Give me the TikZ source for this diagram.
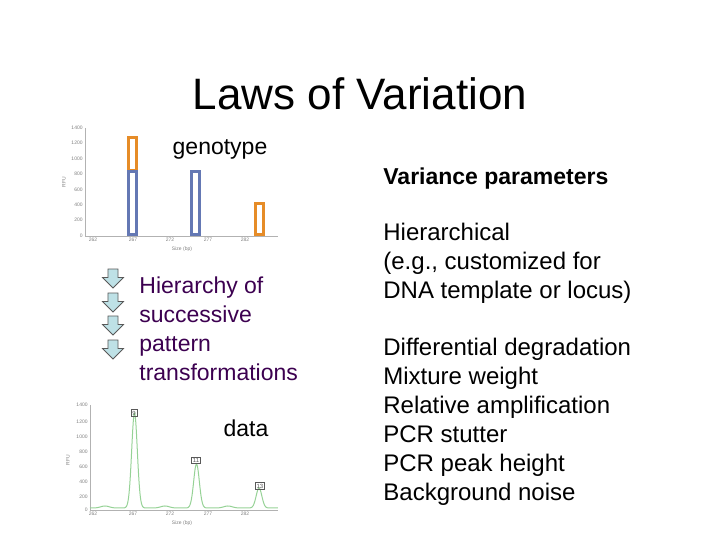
\documentclass[tikz,border=0pt]{standalone}
\usepackage{fontspec}
\setmainfont{Liberation Sans}
\usetikzlibrary{shapes.arrows}
\definecolor{orng}{RGB}{230,140,40}
\definecolor{blu}{RGB}{100,120,180}
\definecolor{grn}{RGB}{150,210,150}
\definecolor{purp}{RGB}{60,0,80}
\definecolor{arrf}{RGB}{190,225,230}
\begin{document}
\begin{tikzpicture}[x=0.5pt,y=-0.5pt,
  body/.style={anchor=north west,font=\fontsize{12}{14.5}\selectfont,align=left,inner sep=0pt},
  tick/.style={font=\fontsize{2.5}{3}\selectfont,anchor=east,inner sep=1pt,gray},
  bar/.style={line width=1.5pt},
  darr/.style={single arrow,shape border rotate=270,draw=gray!70!black,fill=arrf,minimum height=9.5pt,minimum width=10.5pt,single arrow head extend=1.5pt,inner sep=1.2pt}]
\useasboundingbox (0,0) rectangle (720,540);
\node (title) at (360,94) {\fontsize{22}{26}\selectfont Laws of Variation};
% top plot
\draw[gray!60,line width=0.3pt] (85,128) -- (85,236) -- (278,236);
\foreach \v/\y in {1400/128,1200/143,1000/159,800/174,600/190,400/205,200/220,0/236}{\node[tick] at (85,\y) {\v};}
\foreach \v/\x in {262/93,267/133,272/170,277/208,282/245}{\node[tick,anchor=north] at (\x,236) {\v};}
\node[tick,rotate=90,anchor=south] at (68,182) {RFU};
\node[tick,anchor=north] at (182,244) {Size (bp)};
\draw[bar,orng] (129,138) rectangle (137,171);
\draw[bar,blu] (129,172) rectangle (137,235);
\draw[bar,blu] (192,172) rectangle (200,235);
\draw[bar,orng] (256,204) rectangle (264,235);
\node (geno) at (220,149) {\fontsize{11.5}{14}\selectfont genotype};
% arrows
\foreach \i/\y in {a/276,b/300,c/323,d/347}{\node[darr] (arr\i) at (113,\y) {};}
\node[body,text=purp,font=\fontsize{11.5}{14.5}\selectfont] (hier) at (139,276) {Hierarchy of\\successive\\pattern\\transformations};
% bottom plot
\draw[gray!60,line width=0.3pt] (90,405) -- (90,510) -- (278,510);
\foreach \v/\y in {1400/405,1200/422,1000/437,800/452,600/467,400/482,200/497,0/510}{\node[tick] at (90,\y) {\v};}
\foreach \v/\x in {262/93,267/133,272/170,277/208,282/245}{\node[tick,anchor=north] at (\x,510) {\v};}
\node[tick,rotate=90,anchor=south] at (72,460) {RFU};
\node[tick,anchor=north] at (182,518) {Size (bp)};
\draw[grn,line width=0.5pt,smooth] plot[domain=90:278,samples=300] (\x,{508-95*exp(-min(((\x-134.5)/4)^2,40))-44*exp(-min(((\x-196.5)/4)^2,40))-20*exp(-min(((\x-259)/4)^2,40))-2*exp(-min(((\x-105)/6)^2,40))-2*exp(-min(((\x-165)/6)^2,40))-2*exp(-min(((\x-228)/6)^2,40))});
\foreach \t/\x/\y in {9/134/413,11/196/460,13/260/486}{\node[draw=gray,line width=0.2pt,font=\fontsize{3}{3}\selectfont,inner sep=0.6pt,gray!70!black] at (\x,\y) {\t};}
\node (data) at (246,428) {\fontsize{11.5}{14}\selectfont data};
% right text
\node[body,font=\bfseries\fontsize{11.5}{13}\selectfont] (vp) at (383,167) {Variance parameters};
\node[body] (h2) at (383,223) {Hierarchical\\(e.g., customized for\\DNA template or locus)};
\node[body] (list) at (383,338) {Differential degradation\\Mixture weight\\Relative amplification\\PCR stutter\\PCR peak height\\Background noise};
\end{tikzpicture}
\end{document}
